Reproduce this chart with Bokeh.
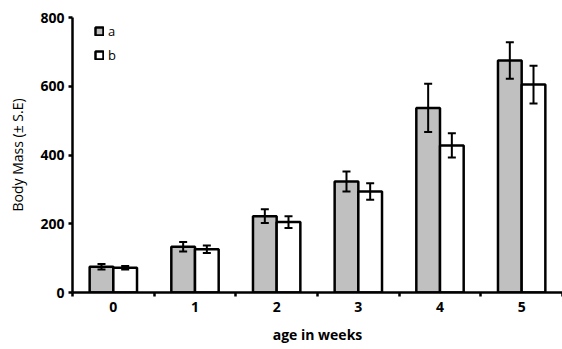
from bokeh.plotting import figure
from bokeh.models import ColumnDataSource, Whisker, FixedTicker, Legend, LegendItem, TeeHead, Range1d
from bokeh.embed import file_html
from bokeh.resources import INLINE

weeks = ["0", "1", "2", "3", "4", "5"]
a_vals = [75, 133, 222, 323, 537, 675]
a_err = [8, 14, 20, 29, 70, 53]
b_vals = [72, 126, 205, 294, 428, 605]
b_err = [5, 11, 17, 24, 35, 55]
y_ticks = [0, 200, 400, 600, 800]

centers = [i + 0.5 for i in range(len(weeks))]
bw = 0.29
xa = [c - bw / 2 for c in centers]
xb = [c + bw / 2 for c in centers]

src_a = ColumnDataSource(dict(x=xa, top=a_vals, up=[v + e for v, e in zip(a_vals, a_err)],
                              lo=[v - e for v, e in zip(a_vals, a_err)]))
src_b = ColumnDataSource(dict(x=xb, top=b_vals, up=[v + e for v, e in zip(b_vals, b_err)],
                              lo=[v - e for v, e in zip(b_vals, b_err)]))

p = figure(frame_width=490, frame_height=275, output_backend="svg", toolbar_location=None,
           x_range=Range1d(0, 6), y_range=Range1d(0, 800),
           min_border_left=72, min_border_right=0, min_border_top=17, min_border_bottom=40)
p.outline_line_color = None
p.xgrid.visible = False
p.ygrid.visible = False

ra = p.vbar(x="x", top="top", width=bw, source=src_a, fill_color="#C0C0C0", line_color="black", line_width=2.5)
rb = p.vbar(x="x", top="top", width=bw, source=src_b, fill_color="white", line_color="black", line_width=2.5)

for s in (src_a, src_b):
    w = Whisker(base="x", upper="up", lower="lo", source=s, line_width=2, line_color="black",
                level="annotation",
                upper_head=TeeHead(size=8, line_width=2, line_color="black"),
                lower_head=TeeHead(size=8, line_width=2, line_color="black"))
    p.add_layout(w)

font = "Open Sans"
# x axis
p.xaxis.ticker = FixedTicker(ticks=centers, minor_ticks=list(range(0, 7)))
p.xaxis.major_label_overrides = {c: w for c, w in zip(centers, weeks)}
p.xaxis.major_tick_line_color = None
p.xaxis.major_tick_out = 0
p.xaxis.major_tick_in = 0
p.xaxis.minor_tick_line_color = "black"
p.xaxis.minor_tick_line_width = 2.5
p.xaxis.minor_tick_out = 4
p.xaxis.minor_tick_in = 0
p.xaxis.axis_line_width = 2.5
p.xaxis.axis_line_color = "black"
p.xaxis.major_label_text_font = font
p.xaxis.major_label_text_font_style = "bold"
p.xaxis.major_label_text_font_size = "14px"
p.xaxis.major_label_text_color = "black"
p.xaxis.major_label_standoff = 5
p.xaxis.axis_label = "age in weeks"
p.xaxis.axis_label_text_font = font
p.xaxis.axis_label_text_font_style = "bold"
p.xaxis.axis_label_text_font_size = "14px"
p.xaxis.axis_label_text_color = "black"
p.xaxis.axis_label_standoff = 10

# y axis
p.yaxis.ticker = FixedTicker(ticks=y_ticks, minor_ticks=[])
p.yaxis.major_tick_line_width = 2.5
p.yaxis.major_tick_out = 4
p.yaxis.major_tick_in = 0
p.yaxis.axis_line_width = 2.5
p.yaxis.major_label_text_font = font
p.yaxis.major_label_text_font_style = "bold"
p.yaxis.major_label_text_font_size = "14px"
p.yaxis.major_label_text_color = "black"
p.yaxis.major_label_standoff = 4
p.yaxis.axis_label = "Body Mass (± S.E)"
p.yaxis.axis_label_text_font = font
p.yaxis.axis_label_text_font_style = "normal"
p.yaxis.axis_label_text_font_size = "14px"
p.yaxis.axis_label_text_color = "black"
p.yaxis.axis_label_standoff = 10

legend = Legend(items=[LegendItem(label="a", renderers=[ra]), LegendItem(label="b", renderers=[rb])],
                location=(22, 228), padding=0, margin=0, spacing=6,
                glyph_width=10, glyph_height=10, label_height=12, label_standoff=4,
                label_text_font=font, label_text_font_size="13px", label_text_color="black",
                background_fill_alpha=0, border_line_color=None)
p.add_layout(legend)

open("out.html", "w").write(file_html(p, INLINE))
